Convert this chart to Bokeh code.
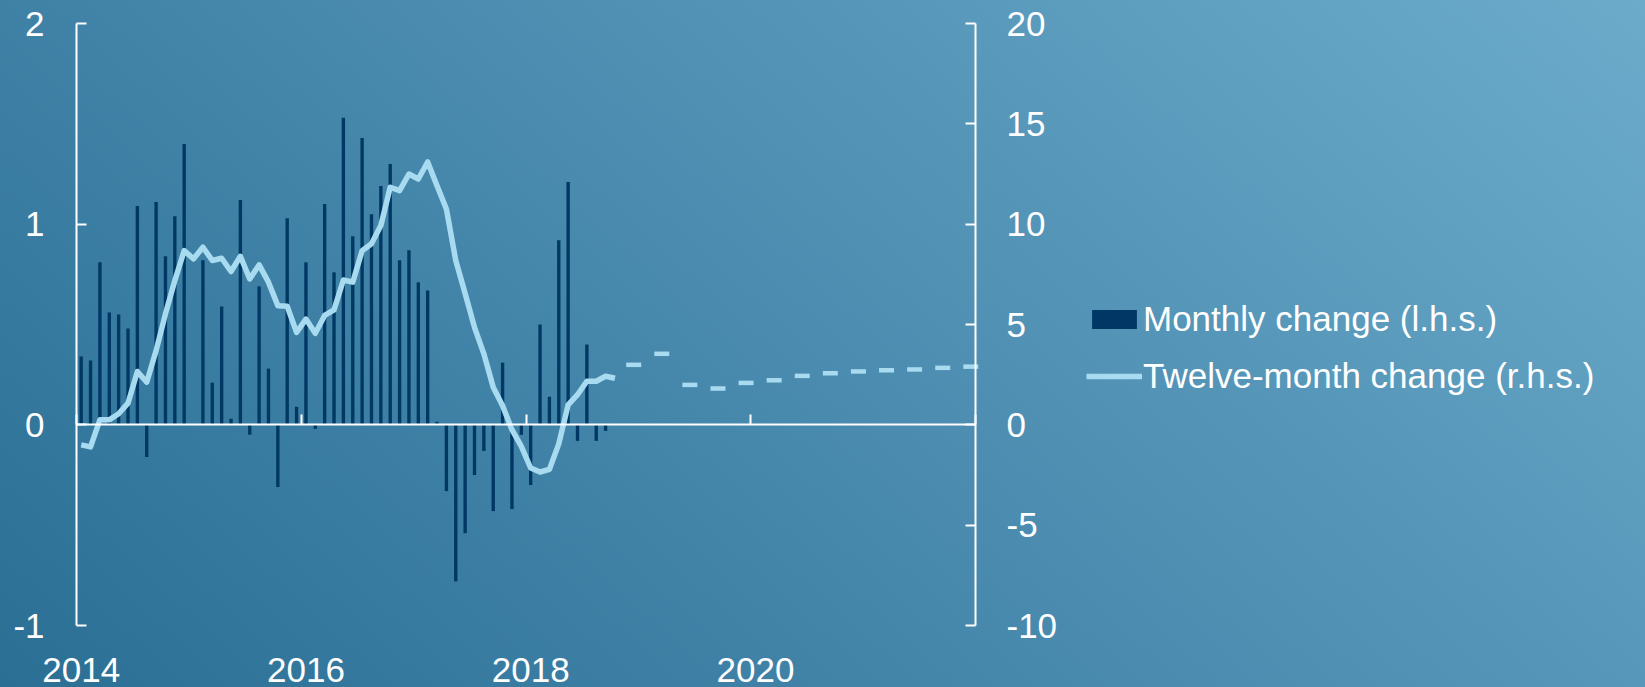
from bokeh.plotting import figure
from bokeh.models import (ColumnDataSource, Range1d, LinearAxis, FixedTicker,
                          CustomJSTickFormatter, Legend, LegendItem)
from bokeh.embed import file_html
from bokeh.resources import INLINE

# Monthly series start in January 2014
START_YEAR = 2014

# Month-on-month change, % (left-hand scale), Jan 2014 - Sep 2018
monthly_change = [
    0.34, 0.32, 0.81, 0.56, 0.55, 0.48, 1.09, -0.16, 1.11, 0.84, 1.04, 1.40,
    0.00, 0.82, 0.21, 0.59, 0.03, 1.12, -0.05, 0.69, 0.28, -0.31, 1.03, 0.09,
    0.81, -0.02, 1.10, 0.76, 1.53, 0.94, 1.43, 1.05, 1.19, 1.30, 0.82, 0.87,
    0.71, 0.67, 0.015, -0.33, -0.78, -0.54, -0.25, -0.13, -0.43, 0.31, -0.42, -0.05,
    -0.30, 0.50, 0.14, 0.92, 1.21, -0.08, 0.40, -0.08, -0.03,
]

# Year-on-year change, % (right-hand scale), Jan 2014 - Oct 2018
twelve_month_change = [
    -1.00, -1.10, 0.25, 0.25, 0.55, 1.08, 2.66, 2.12, 3.70, 5.53, 7.19, 8.68,
    8.27, 8.85, 8.19, 8.30, 7.64, 8.40, 7.27, 7.97, 7.11, 5.94, 5.91, 4.61,
    5.27, 4.56, 5.45, 5.73, 7.22, 7.11, 8.68, 9.02, 9.93, 11.84, 11.67, 12.50,
    12.25, 13.10, 11.92, 10.76, 8.19, 6.55, 4.86, 3.54, 1.87, 0.95, -0.24, -1.07,
    -2.15, -2.35, -2.22, -0.95, 1.00, 1.50, 2.17, 2.17, 2.42, 2.32,
]

# Quarterly projections of the twelve-month change, Dec 2018 - Dec 2021
projection_change = [2.99, 3.54, 1.99, 1.81, 2.09, 2.22, 2.44, 2.57, 2.66, 2.72, 2.76, 2.84, 2.90]
projection_month_index = list(range(59, 96, 3))

year_ticks = [2014, 2016, 2018, 2020, 2022]
year_labels = [2014, 2016, 2018, 2020]
left_ticks = [-1, 0, 1, 2]
right_ticks = [-10, -5, 0, 5, 10, 15, 20]

# Axis extents (data units)
X_START, X_END = 2014, 2022
L_MIN, L_MAX = -1, 2
R_MIN, R_MAX = -10, 20

BAR_COLOR = "#003865"
LINE_COLOR = "#a8dbef"
FONT = "Liberation Sans"
FONT_SIZE = "35px"
BACKGROUND = "linear-gradient(42deg, #2b6f95 0%, #4b8cb0 50%, #6cabca 100%)"

# Page geometry (px).  The plotting area fills the whole page; the axes box
# sits inside it, and every axis is pinned to the edge of that box so that
# tick labels and the legend can use the space around it.
WIDTH, HEIGHT = 1645, 687
BOX_LEFT, BOX_RIGHT, BOX_TOP, BOX_BOTTOM = 76, 975, 23, 625

x_per_px = (X_END - X_START) / (BOX_RIGHT - BOX_LEFT)
l_per_px = (L_MAX - L_MIN) / (BOX_BOTTOM - BOX_TOP)
r_per_px = (R_MAX - R_MIN) / (BOX_BOTTOM - BOX_TOP)
x_view = (X_START - BOX_LEFT * x_per_px, X_END + (WIDTH - BOX_RIGHT) * x_per_px)
l_view = (L_MIN - (HEIGHT - BOX_BOTTOM) * l_per_px, L_MAX + BOX_TOP * l_per_px)
r_view = (R_MIN - (HEIGHT - BOX_BOTTOM) * r_per_px, R_MAX + BOX_TOP * r_per_px)


def month_pos(i):
    """Centre of month i (0 = January of START_YEAR) in fractional years."""
    return START_YEAR + (i + 0.5) / 12


bar_width = 0.36 / 12          # bars are about a third of a month wide
dash_half = 0.8 / 12           # projection dashes span ~1.6 months

bar_src = ColumnDataSource(dict(
    x=[month_pos(i) for i in range(len(monthly_change))],
    top=monthly_change,
))
line_src = ColumnDataSource(dict(
    x=[month_pos(i) for i in range(len(twelve_month_change))],
    y=twelve_month_change,
))
proj_src = ColumnDataSource(dict(
    x0=[month_pos(i) - dash_half for i in projection_month_index],
    x1=[month_pos(i) + dash_half for i in projection_month_index],
    y=projection_change,
))

p = figure(
    width=WIDTH, height=HEIGHT,
    x_range=Range1d(*x_view), y_range=Range1d(*l_view),
    x_axis_type=None, y_axis_type=None,
    output_backend="svg", toolbar_location=None,
    min_border_left=0, min_border_right=0, min_border_top=0, min_border_bottom=0,
    background_fill_alpha=0, border_fill_alpha=0, outline_line_color=None,
)
p.styles = {"background": BACKGROUND}
p.extra_y_ranges = {"rhs": Range1d(*r_view)}

plain_numbers = CustomJSTickFormatter(code="return tick.toString();")

axis_style = dict(
    axis_line_color="white", axis_line_width=2,
    major_tick_line_color="white", major_tick_line_width=2,
    major_tick_in=10, major_tick_out=0,
    minor_tick_line_color=None,
    major_label_text_color="white", major_label_text_font=FONT,
    major_label_text_font_size=FONT_SIZE,
)

# Horizontal axis drawn along the zero line, ticks only
zero_axis = LinearAxis(ticker=FixedTicker(ticks=year_ticks), fixed_location=0,
                       bounds=(X_START, X_END),
                       formatter=CustomJSTickFormatter(code="return '';"),
                       **axis_style)
p.add_layout(zero_axis, "below")

# Year labels under the axes box, centred on January
year_axis = LinearAxis(
    ticker=FixedTicker(ticks=[y + 0.5 / 12 for y in year_labels]),
    formatter=CustomJSTickFormatter(code="return Math.floor(tick).toString();"),
    fixed_location=L_MIN, bounds=(X_START, X_END),
    axis_line_color=None, major_tick_line_color=None, minor_tick_line_color=None,
    major_tick_in=0, major_tick_out=0, major_label_standoff=32,
    major_label_text_color="white", major_label_text_font=FONT,
    major_label_text_font_size=FONT_SIZE,
)
p.add_layout(year_axis, "below")

left_axis = LinearAxis(ticker=FixedTicker(ticks=left_ticks), formatter=plain_numbers,
                       fixed_location=X_START, bounds=(L_MIN, L_MAX),
                       major_label_standoff=32, **axis_style)
p.add_layout(left_axis, "left")

right_axis = LinearAxis(y_range_name="rhs", ticker=FixedTicker(ticks=right_ticks),
                        formatter=plain_numbers, fixed_location=X_END,
                        bounds=(R_MIN, R_MAX), major_label_standoff=31, **axis_style)
p.add_layout(right_axis, "right")

bars = p.vbar(x="x", top="top", bottom=0, width=bar_width, source=bar_src,
              fill_color=BAR_COLOR, line_color=None)
line = p.line(x="x", y="y", source=line_src, y_range_name="rhs",
              line_color=LINE_COLOR, line_width=5.5, line_join="round")
p.segment(x0="x0", y0="y", x1="x1", y1="y", source=proj_src, y_range_name="rhs",
          line_color=LINE_COLOR, line_width=4.5)

# Legend to the right of the right-hand scale
legend = Legend(
    items=[LegendItem(label="Monthly change (l.h.s.)", renderers=[bars]),
           LegendItem(label="Twelve-month change (r.h.s.)", renderers=[line])],
    location=(1086, 291), orientation="vertical",
    background_fill_alpha=0, border_line_color=None,
    label_text_color="white", label_text_font=FONT, label_text_font_size=FONT_SIZE,
    glyph_width=56, glyph_height=24, label_standoff=1, spacing=17,
    padding=0, margin=0,
)
p.add_layout(legend)

open("out.html", "w").write(file_html(p, INLINE))
